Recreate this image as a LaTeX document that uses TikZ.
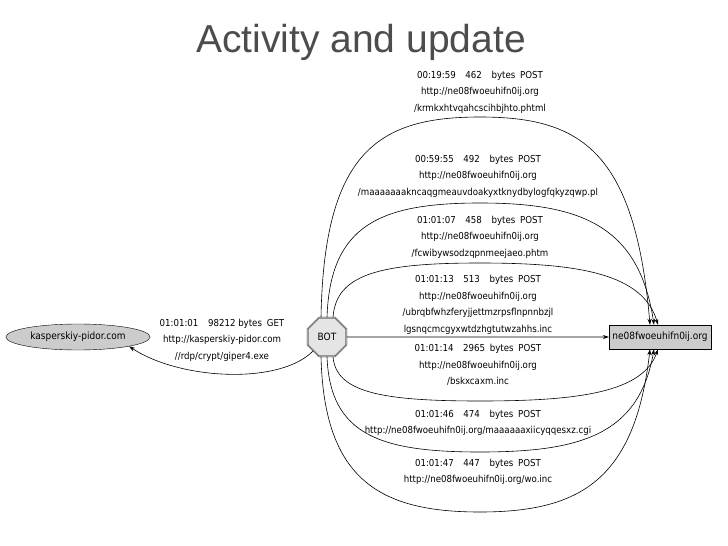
\documentclass[tikz,border=0pt]{standalone}
\usepackage{fontspec}
\setmainfont{DejaVu Sans Condensed}
\newfontfamily\titlefont{Liberation Sans}
\usetikzlibrary{arrows.meta,shapes.geometric,positioning}
\tikzset{
	req/.style={align=center,font=\fontsize{9.6}{16.5}\selectfont,inner sep=0pt},
	host/.style={draw,fill=black!20,font=\fontsize{10}{11}\selectfont},
	ar/.style={-{Stealth[length=6pt,width=4pt]},semithick}
}
\begin{document}
\begin{tikzpicture}[x=1pt,y=-1pt]
   \useasboundingbox (0,0) rectangle (728,546);
   \node[font=\titlefont\fontsize{39}{44}\selectfont,text=black!70] (title) at (361,42) {Activity and update};
   \node[draw,double,regular polygon,regular polygon sides=8,minimum size=42pt,inner sep=0pt,fill=black!10,font=\fontsize{10}{11}\selectfont] (bot) at (327,337) {BOT};
   \node[host,ellipse,minimum width=142pt,minimum height=26pt] (kasp) at (78,337) {kasperskiy-pidor.com};
   \node[host,rectangle,minimum width=100pt,minimum height=24pt] (tgt) at (660,337) {ne08fwoeuhifn0ij.org};
   % get from kasperskiy
   \draw[ar] (bot.south west) .. controls (280,385) and (180,380) .. (kasp.south east);
   \node[req] (get) at (222,340) {01:01:01\quad 98212 bytes\enspace GET\\http://kasperskiy-pidor.com\\//rdp/crypt/giper4.exe};
   % posts
   \foreach \y/\c/\sx/\dx in {117/150/-6/-10, 203/225/0/-6, 263/274/6/-2} {
      \draw[ar] ([xshift=\sx pt]bot.north) .. controls (330+\sx,\c) and (380,\y) .. (480,\y)
         .. controls (580,\y) and (645+\dx,\c) .. ([xshift=\dx pt]tgt.north);
   }
   \draw[ar] (bot.east) -- (tgt.west);
   \foreach \y/\c/\sx/\dx in {401/392/6/-2, 452/435/0/-6, 512/480/-6/-10} {
      \draw[ar] ([xshift=\sx pt]bot.south) .. controls (330+\sx,\c) and (380,\y) .. (480,\y)
         .. controls (580,\y) and (645+\dx,\c) .. ([xshift=\dx pt]tgt.south);
   }
   \node[req] (p1) at (480,92) {00:19:59\quad 462\quad bytes\enspace POST\\http://ne08fwoeuhifn0ij.org\\/krmkxhtvqahcscihbjhto.phtml};
   \node[req] (p2) at (478,176) {00:59:55\quad 492\quad bytes\enspace POST\\http://ne08fwoeuhifn0ij.org\\/maaaaaaakncaqgmeauvdoakyxtknydbylogfqkyzqwp.pl};
   \node[req] (p3) at (480,237) {01:01:07\quad 458\quad bytes\enspace POST\\http://ne08fwoeuhifn0ij.org\\/fcwibywsodzqpnmeejaeo.phtm};
   \node[req] (p4) at (478,305) {01:01:13\quad 513\quad bytes\enspace POST\\http://ne08fwoeuhifn0ij.org\\/ubrqbfwhzferyjjettmzrpsflnpnnbzjl\\lgsnqcmcgyxwtdzhgtutwzahhs.inc};
   \node[req] (p5) at (478,365) {01:01:14\quad 2965\enspace bytes\enspace POST\\http://ne08fwoeuhifn0ij.org\\/bskxcaxm.inc};
   \node[req] (p6) at (478,423) {01:01:46\quad 474\quad bytes\enspace POST\\http://ne08fwoeuhifn0ij.org/maaaaaaxiicyqqesxz.cgi};
   \node[req] (p7) at (478,472) {01:01:47\quad 447\quad bytes\enspace POST\\http://ne08fwoeuhifn0ij.org/wo.inc};
\end{tikzpicture}
\end{document}
